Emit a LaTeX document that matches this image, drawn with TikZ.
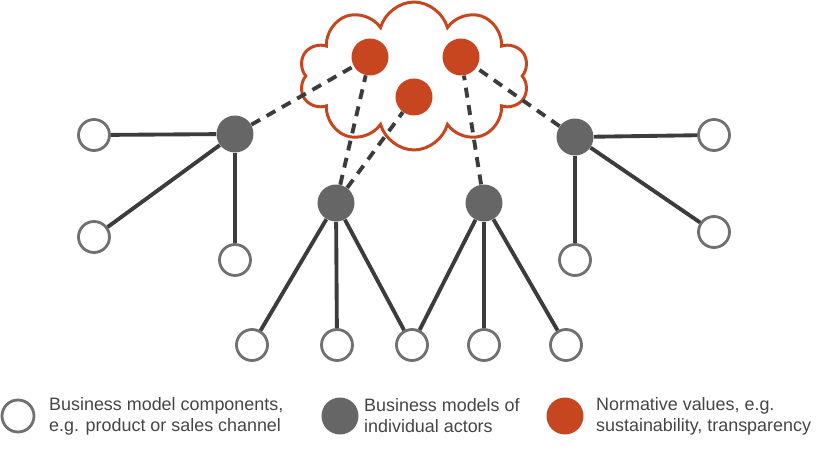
\documentclass[tikz,border=0pt]{standalone}
\usepackage{fontspec}
\setmainfont{Liberation Sans}
\usetikzlibrary{shapes.symbols}
\definecolor{actorgray}{HTML}{666666}
\definecolor{valuered}{HTML}{C8461F}
\definecolor{ringgray}{HTML}{707070}
\definecolor{linegray}{HTML}{3C3C3C}
\definecolor{textgray}{HTML}{454545}
\begin{document}
\begin{tikzpicture}[
    x=0.02cm, y=-0.02cm,
    comp/.style={circle, draw=ringgray, line width=1.6pt, fill=white,
                 minimum size=0.62cm, inner sep=0pt},
    actor/.style={circle, fill=actorgray, minimum size=0.74cm, inner sep=0pt},
    value/.style={circle, fill=valuered, minimum size=0.74cm, inner sep=0pt},
    link/.style={draw=linegray, line width=2.2pt},
    vlink/.style={draw=linegray, line width=2.2pt, dash pattern=on 5.7pt off 4.3pt},
    legend/.style={anchor=west, align=left, text=textgray,
                   font=\fontsize{10.2}{12}\selectfont},
]
  \useasboundingbox[fill=white] (0,0) rectangle (840,449);

  % Cloud of normative values
  \node[cloud, draw=valuered, line width=1.7pt, fill=white, cloud puffs=10,
        cloud puff arc=150, aspect=1.55, minimum width=4.6cm,
        minimum height=2.96cm] (cloud) at (414,76) {};

  % Normative values
  \node[value] (v1) at (370,57) {};
  \node[value] (v2) at (461,57) {};
  \node[value] (v3) at (414,97) {};

  % Business models of actors
  \node[actor] (a1) at (235,134) {};
  \node[actor] (a2) at (336,203) {};
  \node[actor] (a3) at (484,203) {};
  \node[actor] (a4) at (575,137) {};

  % Components
  \node[comp] (c1) at (94,135) {};
  \node[comp] (c2) at (94,237) {};
  \node[comp] (c3) at (235,260) {};
  \node[comp] (c4) at (252,345) {};
  \node[comp] (c5) at (337,345) {};
  \node[comp] (c6) at (412,345) {};
  \node[comp] (c7) at (484,345) {};
  \node[comp] (c8) at (566,345) {};
  \node[comp] (c9) at (575,260) {};
  \node[comp] (c10) at (714,232) {};
  \node[comp] (c11) at (714,135) {};

  % Actor -> component links
  \foreach \a/\c in {a1/c1, a1/c2, a1/c3, a2/c4, a2/c5, a2/c6,
                     a3/c6, a3/c7, a3/c8, a4/c9, a4/c10, a4/c11} {
    \draw[link] (\a) -- (\c);
  }

  % Actor -> value links
  \foreach \a/\v in {a1/v1, a2/v1, a2/v3, a3/v2, a4/v2} {
    \draw[vlink] (\a) -- (\v);
  }

  % Legend
  \node[comp, minimum size=0.64cm] (lc) at (18,416) {};
  \node[legend] (lct) at (43,416) {Business model components,\\e.g. product or sales channel};
  \node[actor] (la) at (340,416) {};
  \node[legend] (lat) at (358,416) {Business models of\\individual actors};
  \node[value] (lv) at (565,416) {};
  \node[legend] (lvt) at (590,416) {Normative values, e.g.\\sustainability, transparency};

\end{tikzpicture}
\end{document}
